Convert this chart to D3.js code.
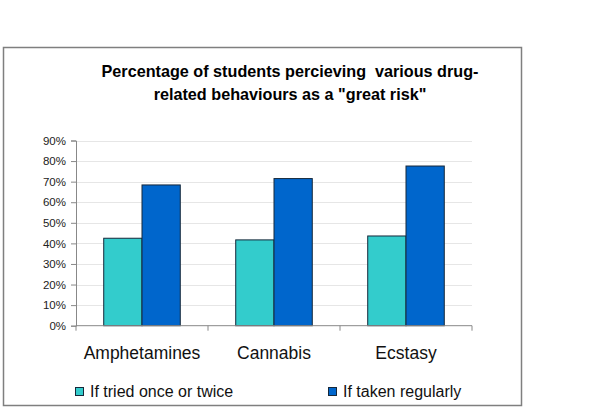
<!DOCTYPE html>
<html>
<head>
<meta charset="utf-8">
<script src="https://cdn.jsdelivr.net/npm/d3@7"></script>
<style>
  html, body { margin: 0; padding: 0; background: #ffffff; }
  svg { display: block; font-family: "Liberation Sans", Arial, sans-serif; }
</style>
</head>
<body>
<svg id="chart" width="595" height="409"></svg>
<script>
const categories = ["Amphetamines", "Cannabis", "Ecstasy"];
const seriesNames = ["If tried once or twice", "If taken regularly"];
const triedOnce = [42.5, 41.7, 43.6];
const takenRegularly = [68.4, 71.5, 77.6];
const yTicks = [0, 10, 20, 30, 40, 50, 60, 70, 80, 90];
const titleLines = ["Percentage of students percieving  various drug-", "related behaviours as a \"great risk\""];
const colors = ["#33CCCC", "#0066CC"];

const series = [triedOnce, takenRegularly];
const svg = d3.select("#chart");

// outer chart frame
svg.append("rect")
  .attr("x", 3.5).attr("y", 47.5)
  .attr("width", 518).attr("height", 358)
  .attr("fill", "#ffffff")
  .attr("stroke", "#7f7f7f").attr("stroke-width", 1.5);

// title
const title = svg.append("text")
  .attr("text-anchor", "middle")
  .attr("font-weight", "bold")
  .attr("font-size", 16.2)
  .attr("fill", "#000")
  .style("white-space", "pre");
titleLines.forEach((t, i) => {
  title.append("tspan").attr("x", 290).attr("y", 77 + i * 22.5).text(t);
});

const plotLeft = 76, plotRight = 472, plotTop = 140.5, plotBottom = 325.7;

const y = d3.scaleLinear().domain([0, 90]).range([plotBottom, plotTop]);
const x0 = d3.scaleBand().domain(categories).range([plotLeft, plotRight])
  .paddingInner(0.42).paddingOuter(0.21);
const x1 = d3.scaleBand().domain(d3.range(series.length)).range([0, x0.bandwidth()]);

// gridlines
svg.append("g").selectAll("line")
  .data(yTicks.filter(d => d > 0))
  .join("line")
  .attr("x1", plotLeft).attr("x2", plotRight)
  .attr("y1", d => Math.round(y(d)) + 0.5).attr("y2", d => Math.round(y(d)) + 0.5)
  .attr("stroke", "#e6e6e6").attr("stroke-width", 1);

// bars
categories.forEach((c, ci) => {
  series.forEach((s, si) => {
    svg.append("rect")
      .attr("x", x0(c) + x1(si))
      .attr("y", y(s[ci]))
      .attr("width", x1.bandwidth())
      .attr("height", y(0) - y(s[ci]))
      .attr("fill", colors[si])
      .attr("stroke", "#16283a").attr("stroke-width", 1);
  });
});

// y axis
const yAxis = d3.axisLeft(y).tickValues(yTicks).tickSize(5).tickPadding(5)
  .tickFormat(d => d + "%");
const gy = svg.append("g").attr("transform", `translate(${plotLeft},0)`).call(yAxis);
gy.select(".domain").attr("stroke", "#888");
gy.selectAll(".tick line").attr("stroke", "#888");
gy.selectAll(".tick text").attr("font-size", 11.5).attr("fill", "#222")
  .attr("font-family", "'Liberation Sans', Arial, sans-serif");

// x axis
const xEdges = d3.scalePoint().domain(d3.range(categories.length + 1)).range([plotLeft, plotRight]);
svg.append("line").attr("x1", plotLeft).attr("x2", plotRight)
  .attr("y1", plotBottom).attr("y2", plotBottom).attr("stroke", "#888");
svg.append("g").selectAll("line")
  .data(d3.range(categories.length + 1))
  .join("line")
  .attr("x1", d => xEdges(d)).attr("x2", d => xEdges(d))
  .attr("y1", plotBottom).attr("y2", plotBottom + 5)
  .attr("stroke", "#888");

svg.append("g").selectAll("text")
  .data(categories)
  .join("text")
  .attr("x", d => x0(d) + x0.bandwidth() / 2)
  .attr("y", 358.5)
  .attr("text-anchor", "middle")
  .attr("font-size", 17.5)
  .attr("fill", "#111")
  .text(d => d);

// legend
const legendX = [75, 328];
seriesNames.forEach((n, i) => {
  svg.append("rect")
    .attr("x", legendX[i] + 0.5).attr("y", 387.5)
    .attr("width", 8).attr("height", 8)
    .attr("fill", colors[i]).attr("stroke", "#16283a").attr("stroke-width", 1);
  svg.append("text")
    .attr("x", legendX[i] + 15).attr("y", 397)
    .attr("font-size", 16).attr("fill", "#111")
    .text(n);
});
</script>
</body>
</html>
